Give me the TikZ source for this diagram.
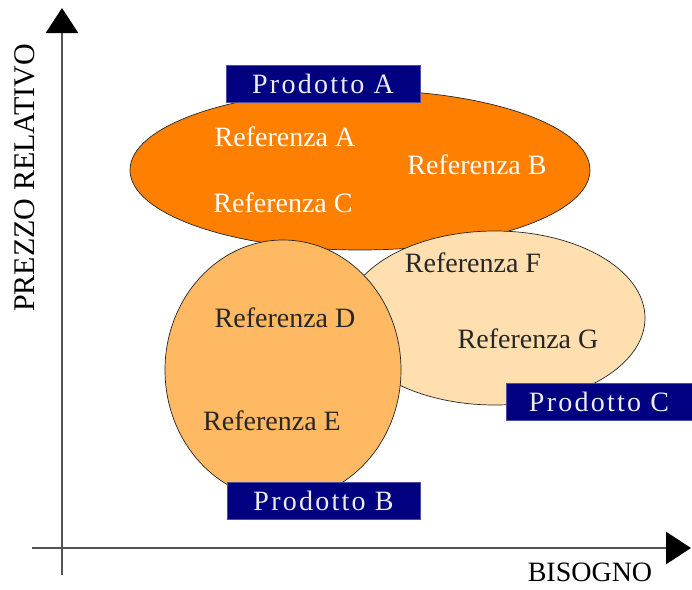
\documentclass[tikz,border=0pt]{standalone}
\usepackage{fontspec}
\setmainfont{Liberation Serif}
\newfontfamily\spacedfont[LetterSpace=8]{Liberation Serif}
\usetikzlibrary{arrows.meta}
\definecolor{orangeA}{HTML}{FF7F00}
\definecolor{orangeB}{HTML}{FFB963}
\definecolor{peachC}{HTML}{FFDEB0}
\definecolor{navy}{HTML}{000080}
\definecolor{axisgray}{HTML}{555555}
\definecolor{boxtext}{HTML}{ECECF4}
\tikzset{
  blob/.style={draw=black!85, line width=0.7pt},
  reftext/.style={font=\fontsize{28}{30}\selectfont, anchor=base, inner sep=0pt},
  prodbox/.style={fill=navy, draw=navy!70!white, line width=0.5pt, minimum height=37pt, inner sep=0pt, text=boxtext, font=\spacedfont\fontsize{28}{30}\selectfont},
  axis/.style={draw=axisgray, line width=2.8pt, -{Triangle[length=25pt,width=32pt,color=black,fill=black]}},
  axislabel/.style={font=\fontsize{30}{32}\selectfont, inner sep=0pt}
}
\begin{document}
\begin{tikzpicture}[x=1pt,y=-1pt]
\useasboundingbox (0,0) rectangle (692,589);
% axes
\coordinate (ybot) at (62,575);
\coordinate (ytop) at (62,8);
\coordinate (xleft) at (32,548);
\coordinate (xright) at (691,548);
\draw[axis] (ybot) -- (ytop);
\draw[axis] (xleft) -- (xright);
\node[axislabel, rotate=90] (ylab) at (25,178) {PREZZO RELATIVO};
\node[axislabel, font=\fontsize{28}{30}\selectfont, anchor=base] (xlab) at (590,581) {BISOGNO};
% ellipses
\path[blob, fill=orangeA] (360,170) ellipse [x radius=230, y radius=80];
\path[blob, fill=peachC] (495,318) ellipse [x radius=150, y radius=87];
\path[blob, fill=orangeB] (283,370) ellipse [x radius=118, y radius=130];
% labels
\node[reftext, text=white] (ra) at (285,146) {Referenza A};
\node[reftext, text=white] (rb) at (477,174) {Referenza B};
\node[reftext, text=white] (rc) at (283,212) {Referenza C};
\node[reftext, text=black!85] (rf) at (473,272) {Referenza F};
\node[reftext, text=black!85] (rg) at (528,348) {Referenza G};
\node[reftext, text=black!85] (rd) at (285,327) {Referenza D};
\node[reftext, text=black!85] (re) at (272,430) {Referenza E};
% product boxes
\node[prodbox, minimum width=194pt] (pa) at (323,83.5) {Prodotto A};
\node[prodbox, minimum width=186pt] (pc) at (599,401.5) {Prodotto C};
\node[prodbox, minimum width=193pt] (pb) at (323.5,500.5) {Prodotto B};
\end{tikzpicture}
\end{document}
